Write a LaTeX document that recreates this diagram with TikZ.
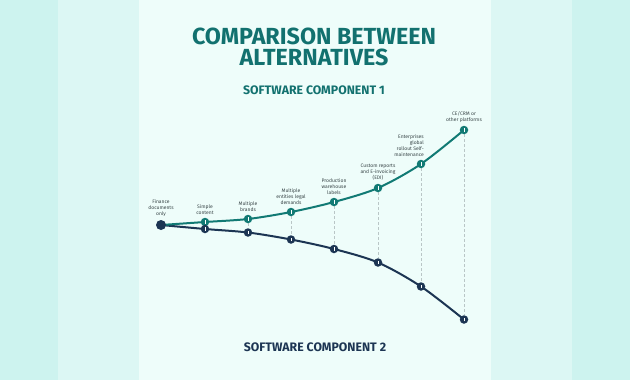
\documentclass[tikz,border=0pt]{standalone}
\usepackage{fontspec}
\setmainfont{Fira Sans}
\setsansfont{Fira Sans}
\usetikzlibrary{positioning,backgrounds}
\definecolor{BandOuter}{HTML}{CDF3EF}
\definecolor{BandInner}{HTML}{DCF7F4}
\definecolor{PanelMint}{HTML}{EEFDFA}
\definecolor{AltTeal}{HTML}{117A74}
\definecolor{TitleTeal}{HTML}{12716F}
\definecolor{AltNavy}{HTML}{1C3553}
\definecolor{LabelGray}{HTML}{3A4749}
\definecolor{GuideGray}{HTML}{B9C6C6}
\tikzset{
  stage/.style={circle, inner sep=0pt, minimum size=8.5pt,
    path picture={\draw[white, line width=0.7pt]
      ([yshift=-1.8pt]path picture bounding box.center) -- ([yshift=1.8pt]path picture bounding box.center);}},
  tealstage/.style={stage, fill=AltTeal},
  navystage/.style={stage, fill=AltNavy},
  startstage/.style={circle, inner sep=0pt, minimum size=10pt, fill=AltNavy},
  stagelabel/.style={font=\fontsize{5}{6}\selectfont, text=LabelGray, align=center, inner sep=0pt},
  altline/.style={line width=2pt, line join=round, line cap=round},
  guide/.style={GuideGray, densely dashed, line width=0.5pt},
  heading/.style={font=\fontsize{12.3}{14}\selectfont\bfseries, inner sep=0pt}
}
\begin{document}
\begin{tikzpicture}[x=1pt, y=-1pt, font=\sffamily, node distance=3pt]
  \useasboundingbox (0,0) rectangle (630,380);

  \node[font=\fontsize{23.3}{21}\selectfont\bfseries, text=TitleTeal, align=center, inner sep=0pt]
    (title) at (314,47) {COMPARISON BETWEEN\\ALTERNATIVES};
  \node[heading, text=TitleTeal] (comp1) at (314,90) {SOFTWARE COMPONENT 1};
  \node[heading, text=AltNavy] (comp2) at (315,347) {SOFTWARE COMPONENT 2};

  % stages
  \node[startstage] (start) at (161,225) {};
  \node[tealstage] (t1) at (205,222) {};
  \node[tealstage] (t2) at (248,219) {};
  \node[tealstage] (t3) at (291,212) {};
  \node[tealstage] (t4) at (334,202) {};
  \node[tealstage] (t5) at (378,188) {};
  \node[tealstage] (t6) at (421,164) {};
  \node[tealstage] (t7) at (464,130) {};
  \node[navystage] (n1) at (205,229) {};
  \node[navystage] (n2) at (248,232.5) {};
  \node[navystage] (n3) at (291,239.5) {};
  \node[navystage] (n4) at (334,249) {};
  \node[navystage] (n5) at (378,262.5) {};
  \node[navystage] (n6) at (421,286.5) {};
  \node[navystage] (n7) at (464,319.5) {};

  % stage labels
  \node[stagelabel, above=of start] (lstart) {Finance\\documents\\only};
  \node[stagelabel, above=of t1] (l1) {Simple\\content};
  \node[stagelabel, above=of t2] (l2) {Multiple\\brands};
  \node[stagelabel, above=of t3] (l3) {Multiple\\entities legal\\demands};
  \node[stagelabel, above=of t4] (l4) {Production\\warehouse\\labels};
  \node[stagelabel, above=of t5] (l5) {Custom reports\\and E-invoicing\\(EDI)};
  \node[stagelabel, align=right, anchor=south east] (l6) at ([xshift=3pt, yshift=3pt]t6.north)
    {Enterprises\\global\\rollout Self-\\maintenance};
  \node[stagelabel, above=of t7] (l7) {CE/CRM or\\other platforms};

  \begin{scope}[on background layer]
    % background bands
    \fill[BandOuter] (0,0) rectangle (630,380);
    \fill[BandInner] (58,0) rectangle (572,380);
    \fill[PanelMint] (139,0) rectangle (491,380);

    \draw[guide] (t1) -- (n1);
    \draw[guide] (t2) -- (n2);
    \draw[guide] (t3) -- (n3);
    \draw[guide] (t4) -- (n4);
    \draw[guide] (t5) -- (n5);
    \draw[guide] (t6) -- (n6);
    \draw[guide] (t7) -- (n7);

    \draw[altline, AltNavy] plot[smooth, tension=0.5] coordinates {(start.center) (n1.center) (n2.center)
      (n3.center) (n4.center) (n5.center) (n6.center) (n7.center)};
    \draw[altline, AltTeal] plot[smooth, tension=0.5] coordinates {(start.center) (t1.center) (t2.center)
      (t3.center) (t4.center) (t5.center) (t6.center) (t7.center)};
  \end{scope}
\end{tikzpicture}
\end{document}
